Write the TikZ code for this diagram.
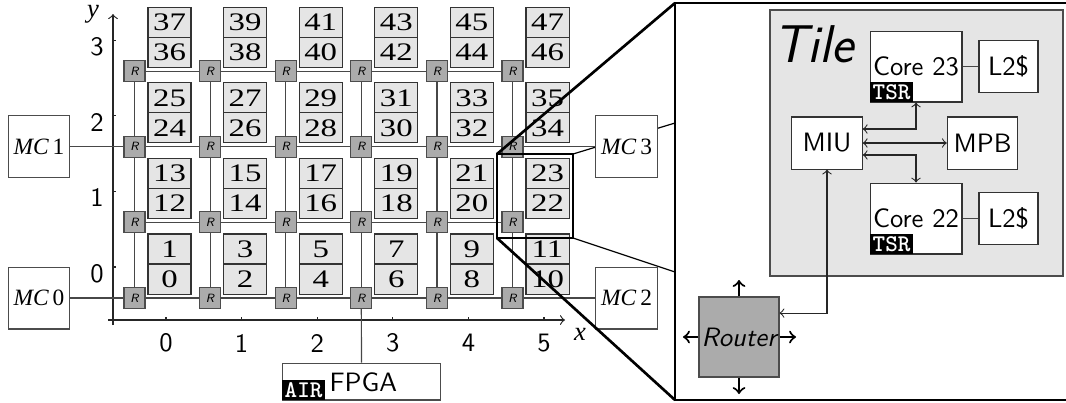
\documentclass[tikz,border=0pt]{standalone}
\usepackage{fontspec}
\setmainfont{Liberation Serif}
\usepackage{graphicx}
\newcommand\tnum[1]{\scalebox{1.3}[1]{#1}}
\begin{document}
\begin{tikzpicture}[x=0.3763pt,y=-0.3763pt,
  every node/.style={inner sep=0pt},
  rbox/.style={draw=black!70, fill=black!33, minimum size=7.9pt, font=\sffamily\itshape\fontsize{4.5}{5}\selectfont},
  tilebox/.style={draw=black!80, fill=black!10, minimum width=16.2pt, minimum height=11.3pt, font=\fontsize{9.5}{10}\selectfont},
  mcbox/.style={draw=black!70, fill=white, minimum size=23.3pt, font=\fontsize{8.8}{10}\selectfont},
  link/.style={draw=black!72, line width=0.45pt},
  zthick/.style={draw=black, line width=1pt},
  zthin/.style={draw=black, line width=0.45pt},
  wbox/.style={draw=black!80, fill=white, font=\sffamily},
  tag/.style={fill=black, text=white, font=\ttfamily\bfseries\fontsize{9}{9}\selectfont, inner xsep=1pt, inner ysep=0.8pt, text height=5.6pt, text depth=0.3pt},
  arr/.style={<->, draw=black!85, line width=0.4pt},
  rarr/.style={->, draw=black, line width=0.8pt},
  axis/.style={->, draw=black!85, line width=0.45pt},
  ticklab/.style={font=\sffamily}
]
\useasboundingbox (0,0) rectangle (1066,402);
\clip (0,0) rectangle (1066,402);

% zoom frame (right panel)
\draw[zthick, fill=white] (675,3) rectangle (1080,400);

% zoom coordinates
\coordinate (s1) at (497,154);
\coordinate (s2) at (573,154);
\coordinate (s3) at (573,238);
\coordinate (s4) at (497,238);
\coordinate (b1) at (675,3);
\coordinate (b4) at (675,400);
\coordinate (bl1) at (675,123);
\coordinate (bl2) at (675,272);
\draw[zthin] (s2) -- (bl1);
\draw[zthin] (s3) -- (bl2);

% axes
\coordinate (yaxb) at (113,325);
\coordinate (yaxt) at (113,14);
\coordinate (xaxl) at (108,320);
\coordinate (xaxr) at (565,320);
\draw[axis] (yaxb) -- (yaxt);
\draw[axis] (xaxl) -- (xaxr);
\foreach \k in {0,...,5}{
  \pgfmathsetmacro\tx{166+75.6*\k}
  \draw[draw=black!85, line width=0.45pt] (\tx,320) -- (\tx,317);
  \node[ticklab] (xl-\k) at (\tx,343) {\k};
}
\foreach \k in {0,...,3}{
  \pgfmathsetmacro\ty{267-75.6*\k}
  \draw[draw=black!85, line width=0.45pt] (113,\ty) -- (116,\ty);
  \node[ticklab] (yl-\k) at (97,\ty+6.5) {\k};
}
\node (xlab) at (580,334) {\textit{x}};
\node[anchor=base, text height=1ex, text depth=0.5ex] (ylab) at (93,17) {\textit{y}};

% routers and tiles
\foreach \i in {0,...,5}{
  \foreach \j in {0,...,3}{
    \pgfmathsetmacro\cx{134.5+75.6*\i}
    \pgfmathsetmacro\cy{298-75.6*\j}
    \pgfmathtruncatemacro\lo{2*(\i+6*\j)}
    \pgfmathtruncatemacro\hi{\lo+1}
    \node[rbox] (R-\i-\j) at (\cx,\cy) {R};
    \node[tilebox] (T-\lo) at (\cx+35,\cy-19) {\tnum{\lo}};
    \node[tilebox] (T-\hi) at (\cx+35,\cy-49) {\tnum{\hi}};
  }
}
\foreach \i in {0,...,4}{
  \pgfmathtruncatemacro\n{\i+1}
  \foreach \j in {0,...,3}{
    \draw[link] (R-\i-\j) -- (R-\n-\j);
  }
}
\foreach \i in {0,...,5}{
  \foreach \j in {0,...,2}{
    \pgfmathtruncatemacro\m{\j+1}
    \draw[link] (R-\i-\j) -- (R-\i-\m);
  }
}

% memory controllers
\node[mcbox] (mc1) at (39,146.8) {\textit{MC}\,1};
\node[mcbox] (mc0) at (39,298) {\textit{MC}\,0};
\node[mcbox] (mc3) at (626.5,146.8) {\textit{MC}\,3};
\node[mcbox] (mc2) at (626.5,298) {\textit{MC}\,2};
\draw[link] (mc1) -- (R-0-2);
\draw[link] (mc0) -- (R-0-0);
\draw[link] (mc3) -- (R-5-2);
\draw[link] (mc2) -- (R-5-0);

% FPGA
\node[draw=black!70, fill=white, minimum width=59.8pt, minimum height=13.9pt] (fpga) at (361.5,381.5) {};
\node[tag, anchor=south west] (air) at (fpga.south west) {AIR};
\node[font=\sffamily, anchor=base west] (fpgatext) at (329,391) {FPGA};
\draw[link] (R-3-0) -- (fpga);

% tile detail
\draw[draw=black!70, fill=black!10] (770,10) rectangle (1063,276);
\node[font=\sffamily\itshape\fontsize{20}{24}\selectfont, anchor=base west] (tiletitle) at (773,62) {Tile};
\node[wbox, minimum width=34.6pt, minimum height=26.7pt] (core23) at (916,66.5) {Core 23};
\node[tag, anchor=south west] (tsr23) at (core23.south west) {TSR};
\node[wbox, minimum width=22.2pt, minimum height=19.9pt] (l2a) at (1008.5,66.5) {L2\$};
\node[wbox, minimum width=26.5pt, minimum height=19.6pt] (miu) at (827,143) {MIU};
\node[wbox, minimum width=26.5pt, minimum height=19.6pt] (mpb) at (982.5,143) {MPB};
\node[wbox, minimum width=34.6pt, minimum height=26.7pt] (core22) at (916,218.5) {Core 22};
\node[tag, anchor=south west] (tsr22) at (core22.south west) {TSR};
\node[wbox, minimum width=22.2pt, minimum height=19.9pt] (l2b) at (1008.5,218.5) {L2\$};
\draw[link] (core23) -- (l2a);
\draw[link] (core22) -- (l2b);
\draw[arr] ([yshift=5.27pt]miu.east) -| (core23.south);
\draw[arr] (miu.east) -- (mpb.west);
\draw[arr] ([yshift=-4.5pt]miu.east) -| (core22.north);

% router detail
\node[draw=black!70, fill=black!33, minimum size=30.1pt, font=\sffamily\itshape] (router) at (739,337) {Router};
\draw[arr] (miu.south) |- ([yshift=9pt]router.east);
\coordinate (rn) at (739,280);
\coordinate (rs) at (739,394);
\coordinate (rw) at (683,337);
\coordinate (re) at (796,337);
\draw[rarr] (router.north) -- (rn);
\draw[rarr] (router.south) -- (rs);
\draw[rarr] (router.west) -- (rw);
\draw[rarr] (router.east) -- (re);

% zoom highlight
\draw[zthick] (s1) rectangle (s3);
\draw[zthick] (s1) -- (b1);
\draw[zthick] (s4) -- (b4);
\end{tikzpicture}
\end{document}
